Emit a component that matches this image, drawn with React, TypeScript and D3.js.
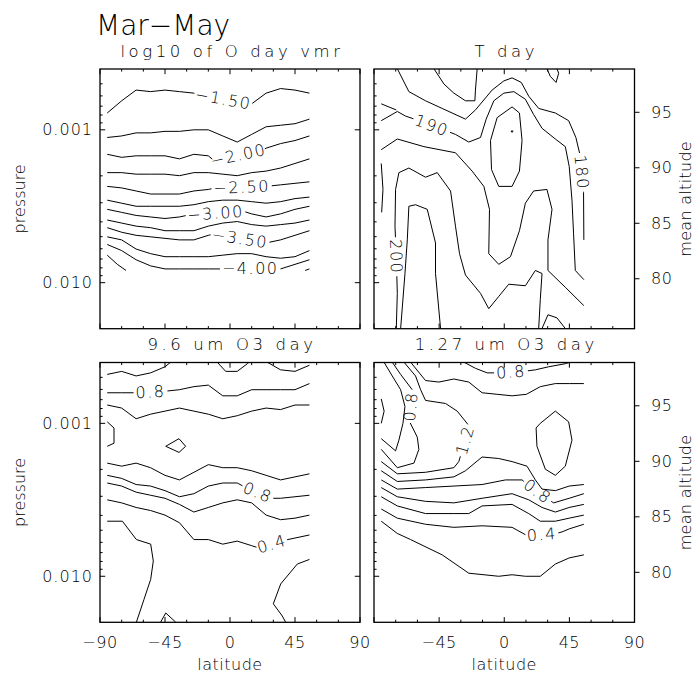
import React from 'react';
import * as d3 from 'd3';

type Pt = [number, number];
type Contour = { level: number; pts: Pt[]; label?: string; at?: Pt };

// ---------------- axes data ----------------
const LAT_MAJOR = [-90, -45, 0, 45, 90];
const LAT_LABELS = ['−90', '−45', '0', '45', '90'];
const LAT_MINOR = [-75, -60, -30, -15, 15, 30, 60, 75];
const P_RANGE: [number, number] = [0.0004, 0.02];
const P_MAJOR = [0.001, 0.01];
const P_LABELS = ['0.001', '0.010'];
const P_MINOR = [0.0005, 0.0006, 0.0007, 0.0008, 0.0009, 0.002, 0.003, 0.004, 0.005, 0.006, 0.007, 0.008, 0.009];
const ALT_RANGE: [number, number] = [75.5, 98.9];
const ALT_TICKS = [80, 85, 90, 95];
const LAT_GRID = [-85, -75, -65, -55, -45, -35, -25, -15, -5, 5, 15, 25, 35, 45, 55];

// ---------------- panel 1: log10 of O day vmr (log10 pressure of each contour at LAT_GRID) ----------------
const O_LEVELS = [-1.5, -1.75, -2.0, -2.25, -2.5, -2.75, -3.0, -3.25, -3.5, -3.75, -4.0];
const O_LOGP = [
  [-3.11, -3.19, -3.26, -3.25, -3.26, -3.25, -3.24, -3.2, -3.17, -3.15, -3.17, -3.24, -3.27, -3.26, -3.24],
  [-2.95, -2.96, -2.98, -2.98, -2.99, -2.99, -3.0, -3.0, -2.96, -2.92, -2.97, -3.02, -3.03, -3.04, -3.07],
  [-2.84, -2.82, -2.83, -2.83, -2.83, -2.81, -2.84, -2.83, -2.75, -2.77, -2.83, -2.88, -2.91, -2.93, -2.96],
  [-2.72, -2.72, -2.71, -2.71, -2.71, -2.7, -2.72, -2.72, -2.71, -2.7, -2.72, -2.73, -2.75, -2.78, -2.81],
  [-2.63, -2.62, -2.6, -2.58, -2.58, -2.58, -2.6, -2.61, -2.63, -2.63, -2.63, -2.63, -2.64, -2.65, -2.66],
  [-2.54, -2.52, -2.5, -2.5, -2.5, -2.5, -2.51, -2.53, -2.54, -2.54, -2.53, -2.52, -2.53, -2.55, -2.56],
  [-2.48, -2.46, -2.44, -2.43, -2.42, -2.43, -2.45, -2.46, -2.48, -2.48, -2.45, -2.43, -2.45, -2.48, -2.5],
  [-2.41, -2.39, -2.37, -2.36, -2.34, -2.34, -2.34, -2.37, -2.39, -2.4, -2.38, -2.37, -2.38, -2.39, -2.41],
  [-2.36, -2.33, -2.31, -2.3, -2.29, -2.28, -2.28, -2.31, -2.33, -2.31, -2.28, -2.26, -2.28, -2.31, -2.34],
  [-2.3, -2.28, -2.22, -2.19, -2.17, -2.17, -2.17, -2.17, -2.18, -2.19, -2.19, -2.17, -2.16, -2.17, -2.21],
  [-2.25, -2.21, -2.15, -2.11, -2.09, -2.09, -2.09, -2.09, -2.09, -2.09, -2.09, -2.09, -2.09, -2.12, -2.15],
];
const O_LABELS = [
  { row: 0, text: '−1.50', lat: -5 },
  { row: 2, text: '−2.00', lat: 6 },
  { row: 4, text: '−2.50', lat: 8 },
  { row: 6, text: '−3.00', lat: -10 },
  { row: 8, text: '−3.50', lat: 7 },
  { row: 10, text: '−4.00', lat: 14 },
];
const O_EXTRA: Contour[] = [
  { level: -4.25, pts: [[-85, -2.18], [-78, -2.12], [-72, -2.08]] },
  { level: -4.25, pts: [[52, -2.08], [55, -2.09]] },
];

// ---------------- panel 2: T day ----------------
const T_CONTOURS: Contour[] = [
  { level: 180, label: '180', at: [51.8, -2.72], pts: [[-73.9, -3.4], [-65.9, -3.25], [-54.4, -3.19], [-42.9, -3.14], [-26.8, -3.07], [-19.9, -3.13], [-8.4, -3.26], [-0.3, -3.32], [5.4, -3.34], [11.8, -3.31], [16.9, -3.22], [23.8, -3.14], [35.3, -3.11], [44.5, -3.06], [49.5, -2.95], [52.5, -2.83], [53.7, -2.72], [54.8, -2.59], [55, -2.28]] },
  { level: 175, pts: [[-48.6, -3.4], [-41.7, -3.3], [-34.8, -3.24], [-26.8, -3.19], [-20.3, -3.19], [-19.9, -3.26], [-18.7, -3.4]] },
  { level: 175, pts: [[29.5, -3.4], [31.8, -3.35], [35.8, -3.31], [37.6, -3.37], [36.4, -3.4]] },
  { level: 180, pts: [[5.4, -3.15], [10.5, -3.11], [12.3, -2.93], [10.5, -2.73], [5.4, -2.63], [-3.8, -2.63], [-8.8, -2.74], [-9.5, -2.93], [-4.9, -3.08], [5.4, -3.15]] },
  { level: 175, pts: [[4.9, -2.993], [5.9, -2.993], [5.9, -2.986], [4.9, -2.986], [4.9, -2.993]] },
  { level: 190, label: '190', at: [-49.3, -3.05], pts: [[-85, -3.06], [-73.9, -3.12], [-68.2, -3.09], [-49.8, -3.03], [-33.7, -2.97], [-24.5, -2.92], [-16.4, -2.95], [-12.5, -3.07], [-7.2, -3.19], [-0.3, -3.24], [6.6, -3.25], [14.6, -3.2], [20.3, -3.1], [26.1, -3.01], [35.3, -2.94], [42.2, -2.89], [44.9, -2.76], [46.8, -2.54], [47.9, -2.32], [49.1, -2.08], [55, -2.02]] },
  { level: 185, pts: [[-85, -3.17], [-74.6, -3.13]] },
  { level: 195, pts: [[-85, -2.87], [-73.9, -2.94], [-55.5, -2.89], [-33.7, -2.85], [-22.2, -2.73], [-14.1, -2.63], [-10.2, -2.48], [-10.7, -2.19], [-3.8, -2.12], [4.3, -2.17], [10.5, -2.34], [14.6, -2.52], [20.3, -2.6], [29.5, -2.61], [33.0, -2.48], [30.2, -2.28], [30.2, -2.08], [42.2, -1.97], [55, -1.85]] },
  { level: 200, label: '200', at: [-72.8, -2.17], pts: [[-74.6, -1.7], [-73.9, -1.93], [-74.6, -2.17], [-75.5, -2.37], [-75.1, -2.61], [-72.8, -2.72], [-65.9, -2.75], [-54.4, -2.69], [-46.3, -2.72], [-37.1, -2.6], [-33.7, -2.37], [-30.9, -2.19], [-26.8, -2.05], [-16.4, -1.93], [-10.7, -1.83], [-3.8, -1.91], [3.1, -1.99], [14.6, -1.98], [21.5, -2.08], [26.1, -2.06], [24.9, -1.89], [23.8, -1.7]] },
  { level: 205, pts: [[-71.6, -1.7], [-68.6, -2.06], [-67.0, -2.28], [-65.9, -2.5], [-61.3, -2.51], [-53.2, -2.48], [-47.5, -2.26], [-47.5, -2.06], [-44.0, -1.7]] },
  { level: 195, pts: [[-85, -2.78], [-83.8, -2.61], [-84.7, -2.46]] },
  { level: 195, pts: [[26.1, -1.7], [30.2, -1.79], [36.4, -1.77], [42.2, -1.7]] },
];

// ---------------- panel 3: 9.6 um O3 day ----------------
const N_LEVELS = [0.8, 1.0, 1.0, 0.8, 0.6, 0.4];
const N_LOGP = [
  [-3.2, -3.2, -3.2, -3.2, -3.21, -3.22, -3.24, -3.25, -3.18, -3.18, -3.22, -3.22, -3.22, -3.22, -3.26],
  [-3.12, -3.1, -3.03, -3.06, -3.08, -3.1, -3.08, -3.06, -3.03, -3.05, -3.08, -3.1, -3.09, -3.12, -3.12],
  [-2.74, -2.72, -2.74, -2.71, -2.66, -2.63, -2.68, -2.73, -2.71, -2.71, -2.69, -2.66, -2.63, -2.65, -2.67],
  [-2.66, -2.64, -2.6, -2.59, -2.56, -2.52, -2.54, -2.59, -2.61, -2.61, -2.56, -2.51, -2.51, -2.52, -2.53],
  [-2.61, -2.59, -2.55, -2.53, -2.51, -2.47, -2.42, -2.45, -2.48, -2.5, -2.48, -2.4, -2.37, -2.38, -2.4],
  [-2.5, -2.48, -2.45, -2.43, -2.4, -2.35, -2.24, -2.24, -2.21, -2.23, -2.2, -2.17, -2.23, -2.25, -2.27],
];
const N_LABELS = [
  { row: 0, text: '0.8', lat: -55 },
  { row: 3, text: '0.8', lat: 19 },
  { row: 5, text: '0.4', lat: 29 },
];
const N_EXTRA: Contour[] = [
  { level: 0.6, pts: [[-85, -3.32], [-75, -3.34], [-65, -3.31], [-55, -3.33], [-45, -3.37], [-41.1, -3.4]] },
  { level: 0.6, pts: [[-8.8, -3.4], [-3, -3.34], [5, -3.34], [12, -3.39], [13.2, -3.4]] },
  { level: 0.6, pts: [[25.8, -3.4], [35, -3.35], [45, -3.34], [55, -3.38]] },
  { level: 1.2, pts: [[-85, -3.01], [-80.3, -2.97], [-80.3, -2.87], [-85, -2.85]] },
  { level: 1.2, pts: [[-44.5, -2.85], [-35.3, -2.9], [-30.7, -2.85], [-35.3, -2.81], [-44.5, -2.85]] },
  { level: 0.2, pts: [[-85, -2.36], [-74.5, -2.36], [-64.8, -2.24], [-54.9, -2.21], [-53.1, -2.1], [-54.9, -1.98], [-59.5, -1.85], [-64.8, -1.7]] },
  { level: 0.2, pts: [[55, -2.11], [46.6, -2.08], [35.1, -1.95], [30, -1.82], [36.2, -1.74], [38.5, -1.7]] },
  { level: 0.2, pts: [[-48, -1.7], [-44.5, -1.76], [-37.6, -1.7]] },
];

// ---------------- panel 4: 1.27 um O3 day ----------------
const R_CONTOURS: Contour[] = [
  { level: 0.8, label: '0.8', at: [4.7, -3.33], pts: [[-27.9, -3.4], [-19.9, -3.36], [-11.8, -3.33], [5.4, -3.33], [21.5, -3.35], [30.7, -3.37], [42.2, -3.39], [45.6, -3.4]] },
  { level: 1.0, pts: [[-64.7, -3.4], [-54.4, -3.28], [-45.2, -3.27], [-34.8, -3.29], [-24.5, -3.27], [-15.3, -3.2], [-4.9, -3.19], [5.4, -3.18], [15.3, -3.19], [24.9, -3.24], [35.3, -3.26], [45.2, -3.26], [55, -3.26]] },
  { level: 0.6, pts: [[-85, -3.16], [-83, -3.08], [-85, -3.0]] },
  { level: 0.6, pts: [[-83.1, -3.4], [-77.4, -3.31], [-71.6, -3.22], [-68.6, -3.11], [-70.0, -3.0], [-72.8, -2.89], [-75.1, -2.82], [-85, -2.9]] },
  { level: 0.8, label: '0.8', at: [-64.3, -3.11], pts: [[-77.4, -3.4], [-71.6, -3.32], [-63.6, -3.22], [-63.6, -3.13], [-65.9, -3.02], [-60.1, -2.91], [-59.0, -2.83], [-62.4, -2.74], [-73.9, -2.71], [-85, -2.83]] },
  { level: 1.2, label: '1.2', at: [-26.8, -2.89], pts: [[-69.3, -3.4], [-61.3, -3.31], [-57.8, -3.22], [-54.4, -3.15], [-40.6, -3.13], [-32.5, -3.08], [-24.0, -2.98], [-26.8, -2.89], [-29.5, -2.81], [-31.4, -2.75], [-34.8, -2.71], [-54.4, -2.68], [-73.9, -2.67], [-85, -2.75]] },
  { level: 1.0, pts: [[-85, -2.69], [-73.9, -2.62], [-54.4, -2.63], [-34.8, -2.65], [-26.8, -2.69], [-15.3, -2.78], [-3.8, -2.77], [5.4, -2.75], [15.7, -2.72], [21.5, -2.63], [26.1, -2.57], [35.3, -2.56], [44.9, -2.59], [55, -2.6]] },
  { level: 0.8, label: '0.8', at: [22.6, -2.55], pts: [[-85, -2.63], [-73.9, -2.57], [-54.4, -2.58], [-34.8, -2.59], [-15.3, -2.6], [0.8, -2.63], [12.3, -2.63], [22.6, -2.55], [34.1, -2.48], [44.9, -2.51], [55, -2.54]] },
  { level: 0.6, pts: [[-85, -2.58], [-73.9, -2.52], [-54.4, -2.49], [-34.8, -2.48], [-15.3, -2.51], [5.4, -2.54], [16.9, -2.5], [26.1, -2.45], [35.3, -2.42], [44.9, -2.45], [55, -2.47]] },
  { level: 0.5, pts: [[-85, -2.52], [-73.9, -2.46], [-54.4, -2.41], [-34.8, -2.41], [-24.5, -2.41], [-15.3, -2.46], [5.4, -2.47], [16.9, -2.41], [24.9, -2.36], [35.3, -2.36], [44.9, -2.38], [55, -2.4]] },
  { level: 0.4, label: '0.4', at: [26, -2.26], pts: [[-85, -2.44], [-73.9, -2.38], [-54.4, -2.34], [-34.8, -2.32], [-15.3, -2.33], [5.4, -2.32], [16.9, -2.26], [28.4, -2.26], [39.9, -2.29], [44.9, -2.31], [55, -2.34]] },
  { level: 0.2, pts: [[-85, -2.36], [-73.9, -2.28], [-64.7, -2.24], [-42.9, -2.14], [-24.5, -2.02], [-3.8, -2.0], [5.4, -2.01], [14.6, -2.0], [24.9, -2.0], [35.3, -2.08], [44.9, -2.12], [55, -2.14]] },
  { level: 1.2, pts: [[24.9, -3.0], [35.3, -3.08], [44.5, -3.01], [46.8, -2.89], [42.2, -2.72], [35.3, -2.66], [28.4, -2.7], [22.6, -2.85], [22.0, -2.97], [24.9, -3.0]] },
];

// ---------------- build profile-based contours ----------------
function fromProfiles(levels: number[], rows: number[][], labels: { row: number; text: string; lat: number }[], extra: Contour[]): Contour[] {
  const cs: Contour[] = rows.map((r, i) => ({ level: levels[i], pts: r.map((v, j) => [LAT_GRID[j], v] as Pt) }));
  labels.forEach((l) => {
    const interp = d3.scaleLinear().domain(LAT_GRID).range(rows[l.row]);
    cs[l.row].label = l.text;
    cs[l.row].at = [l.lat, interp(l.lat)];
  });
  return cs.concat(extra);
}
const O_CONTOURS = fromProfiles(O_LEVELS, O_LOGP, O_LABELS, O_EXTRA);
const N_CONTOURS = fromProfiles(N_LEVELS, N_LOGP, N_LABELS, N_EXTRA);

// ---------------- layout / style ----------------
const FONT = '"DejaVu Sans", Verdana, sans-serif';
const FW = 300;
const FS = 16;
const LABEL_SP = 1.5;
const PANEL_X: [number, number][] = [[100, 360], [374, 634.5]];
const PANEL_Y: [number, number][] = [[69, 328.7], [362.5, 622.3]];
const MAJ = 5.2;
const MIN = 2.6;

let ctx: CanvasRenderingContext2D | null = null;
function textWidth(s: string, size: number, sp: number) {
  try {
    if (!ctx) ctx = document.createElement('canvas').getContext('2d');
    if (ctx) {
      ctx.font = `${FW} ${size}px "DejaVu Sans"`;
      return ctx.measureText(s).width + sp * s.length;
    }
  } catch (e) { /* ignore */ }
  return s.length * size * 0.62 + sp * s.length;
}

function cutForLabel(pts: Pt[], anchor: Pt, width: number) {
  const n = pts.length;
  const cum = [0];
  for (let i = 1; i < n; i++) cum.push(cum[i - 1] + Math.hypot(pts[i][0] - pts[i - 1][0], pts[i][1] - pts[i - 1][1]));
  const total = cum[n - 1];
  let bestD = Infinity, bestS = 0;
  for (let i = 1; i < n; i++) {
    const [ax, ay] = pts[i - 1], [bx, by] = pts[i];
    const dx = bx - ax, dy = by - ay, L2 = dx * dx + dy * dy;
    let t = L2 > 0 ? ((anchor[0] - ax) * dx + (anchor[1] - ay) * dy) / L2 : 0;
    t = Math.max(0, Math.min(1, t));
    const d = Math.hypot(ax + t * dx - anchor[0], ay + t * dy - anchor[1]);
    if (d < bestD) { bestD = d; bestS = cum[i - 1] + t * Math.sqrt(L2); }
  }
  const at = (s: number): Pt => {
    s = Math.max(0, Math.min(total, s));
    for (let i = 1; i < n; i++) {
      if (cum[i] >= s) {
        const L = cum[i] - cum[i - 1];
        const t = L > 0 ? (s - cum[i - 1]) / L : 0;
        return [pts[i - 1][0] + t * (pts[i][0] - pts[i - 1][0]), pts[i - 1][1] + t * (pts[i][1] - pts[i - 1][1])];
      }
    }
    return pts[n - 1];
  };
  const sub = (s1: number, s2: number): Pt[] => {
    const out: Pt[] = [at(s1)];
    for (let i = 0; i < n; i++) if (cum[i] > s1 && cum[i] < s2) out.push(pts[i]);
    out.push(at(s2));
    return out;
  };
  const half = width / 2;
  const sA = Math.max(0, bestS - half), sB = Math.min(total, bestS + half);
  const gap = 2;
  const segs: Pt[][] = [];
  if (sA - gap > 0) segs.push(sub(0, sA - gap));
  if (sB + gap < total) segs.push(sub(sB + gap, total));
  const pA = at(sA), pB = at(sB);
  let ang = (Math.atan2(pB[1] - pA[1], pB[0] - pA[0]) * 180) / Math.PI;
  if (ang > 90) ang -= 180;
  else if (ang <= -90) ang += 180;
  return { segs, cx: (pA[0] + pB[0]) / 2, cy: (pA[1] + pB[1]) / 2, ang };
}

type PanelProps = {
  col: number; row: number; title: string; contours: Contour[];
  leftLabels?: boolean; altAxis?: boolean; bottomLabels?: boolean; skipFirstX?: boolean;
};

function Panel({ col, row, title, contours, leftLabels, altAxis, bottomLabels, skipFirstX }: PanelProps) {
  const [x0, x1] = PANEL_X[col];
  const [y0, y1] = PANEL_Y[row];
  const x = d3.scaleLinear().domain([-90, 90]).range([x0, x1]);
  const y = d3.scaleLog().domain(P_RANGE).range([y0, y1]);
  const alt = d3.scaleLinear().domain(ALT_RANGE).range([y1, y0]);
  const line = d3.line<Pt>();
  const clipId = `clip-${col}-${row}`;
  const paths: string[] = [];
  const labels: { text: string; cx: number; cy: number; ang: number }[] = [];
  contours.forEach((c) => {
    const scr: Pt[] = c.pts.map(([la, lp]) => [x(la), y(Math.pow(10, lp))]);
    if (c.label && c.at) {
      const w = textWidth(c.label, FS, LABEL_SP);
      const anchor: Pt = [x(c.at[0]), y(Math.pow(10, c.at[1]))];
      const r = cutForLabel(scr, anchor, w);
      r.segs.forEach((s) => paths.push(line(s) || ''));
      labels.push({ text: c.label, cx: r.cx, cy: r.cy, ang: r.ang });
    } else {
      paths.push(line(scr) || '');
    }
  });
  const cxm = (x0 + x1) / 2;
  const cym = (y0 + y1) / 2;
  const ticks: JSX.Element[] = [];
  let k = 0;
  const addTick = (xa: number, ya: number, xb: number, yb: number) =>
    ticks.push(<line key={k++} x1={xa} y1={ya} x2={xb} y2={yb} />);
  LAT_MAJOR.forEach((v) => { addTick(x(v), y0, x(v), y0 + MAJ); addTick(x(v), y1, x(v), y1 - MAJ); });
  LAT_MINOR.forEach((v) => { addTick(x(v), y0, x(v), y0 + MIN); addTick(x(v), y1, x(v), y1 - MIN); });
  P_MAJOR.forEach((v) => { addTick(x0, y(v), x0 + MAJ, y(v)); if (!altAxis) addTick(x1, y(v), x1 - MAJ, y(v)); });
  P_MINOR.forEach((v) => addTick(x0, y(v), x0 + MIN, y(v)));
  if (altAxis) ALT_TICKS.forEach((v) => addTick(x1, alt(v), x1 + 5, alt(v)));

  return (
    <g>
      <defs>
        <clipPath id={clipId}><rect x={x0} y={y0} width={x1 - x0} height={y1 - y0} /></clipPath>
      </defs>
      <g clipPath={`url(#${clipId})`} fill="none" stroke="#000" strokeWidth={1} strokeLinejoin="round">
        {paths.map((d, i) => <path key={i} d={d} />)}
      </g>
      {labels.map((l, i) => (
        <text key={i} transform={`translate(${l.cx},${l.cy}) rotate(${l.ang})`} textAnchor="middle"
          dominantBaseline="central" fontSize={FS} letterSpacing={LABEL_SP} fill="#000">{l.text}</text>
      ))}
      <g stroke="#000" strokeWidth={1}>{ticks}</g>
      <rect x={x0} y={y0} width={x1 - x0} height={y1 - y0} fill="none" stroke="#000" strokeWidth={1.3} />
      <text x={cxm + 2} y={y0 - 12.3} textAnchor="middle" fontSize={FS + 0.5} letterSpacing={3.6} fill="#000">{title}</text>
      {leftLabels && P_MAJOR.map((v, i) => (
        <text key={`pl${i}`} x={x0 - 7} y={y(v)} textAnchor="end" dominantBaseline="central" fontSize={FS} letterSpacing={1} fill="#000">{P_LABELS[i]}</text>
      ))}
      {leftLabels && (
        <text transform={`translate(25,${cym}) rotate(-90)`} textAnchor="middle" fontSize={FS} fill="#000">pressure</text>
      )}
      {altAxis && ALT_TICKS.map((v) => (
        <text key={`al${v}`} x={x1 + 16.5} y={alt(v)} dominantBaseline="central" fontSize={FS} letterSpacing={0.5} fill="#000">{v}</text>
      ))}
      {altAxis && (
        <text transform={`translate(691,${cym}) rotate(-90)`} textAnchor="middle" fontSize={FS} letterSpacing={0.3} fill="#000">mean altitude</text>
      )}
      {bottomLabels && LAT_MAJOR.map((v, i) => (skipFirstX && i === 0) ? null : (
        <text key={`xl${i}`} x={x(v)} y={648} textAnchor="middle" fontSize={FS} letterSpacing={0.5} fill="#000">{LAT_LABELS[i]}</text>
      ))}
      {bottomLabels && (
        <text x={cxm} y={670} textAnchor="middle" fontSize={FS} letterSpacing={0.5} fill="#000">latitude</text>
      )}
    </g>
  );
}

export default function App() {
  return (
    <svg width={698} height={675} viewBox="0 0 698 675" fontFamily={FONT} fontWeight={FW}
      style={{ position: 'absolute', left: 0, top: 0, background: '#fff' }}>
      <rect x={0} y={0} width={698} height={675} fill="#fff" />
      <text x={96} y={35} fontSize={28} fill="#000">Mar−May</text>
      <Panel col={0} row={0} title="log10 of O day vmr" contours={O_CONTOURS} leftLabels />
      <Panel col={1} row={0} title="T day" contours={T_CONTOURS} altAxis />
      <Panel col={0} row={1} title="9.6 um O3 day" contours={N_CONTOURS} leftLabels bottomLabels />
      <Panel col={1} row={1} title="1.27 um O3 day" contours={R_CONTOURS} altAxis bottomLabels skipFirstX />
    </svg>
  );
}
